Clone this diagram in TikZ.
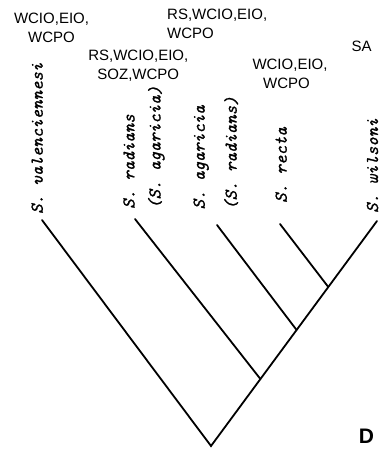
\documentclass[tikz,border=0pt]{standalone}
\usepackage{fontspec}
\newfontfamily\hdrfont{Liberation Sans}
\newfontfamily\taxfont{lmmono10-italic}[Extension=.otf,FakeBold=1.1]
\begin{document}
\begin{tikzpicture}[x=1pt,y=-1pt,
  branch/.style={line width=1.8pt,line cap=round,line join=miter},
  taxon/.style={rotate=90,anchor=base west,inner sep=0pt,
    font=\taxfont\fontsize{18}{20}\selectfont},
  area/.style={anchor=base,inner sep=0pt,
    font=\hdrfont\fontsize{15}{18}\selectfont},
  panel/.style={anchor=base,inner sep=0pt,
    font=\hdrfont\bfseries\fontsize{21}{24}\selectfont}]
\useasboundingbox (0,0) rectangle (387,450);

% tree
\coordinate (root) at (211,446);
\coordinate (tv) at (42,220);
\coordinate (tr) at (135,219);
\coordinate (ta) at (217,225);
\coordinate (tc) at (280,224);
\coordinate (tw) at (377,221);
\coordinate (n1) at (260.4,379);
\coordinate (n2) at (296.6,330);
\coordinate (n3) at (328.3,287);

\draw[branch] (tv) -- (root) -- (tw);
\draw[branch] (n1) -- (tr);
\draw[branch] (n2) -- (ta);
\draw[branch] (n3) -- (tc);

% taxa
\node[taxon] (lv) at (42.7,214) {S. valenciennesi};
\node[taxon] (lr1) at (134.5,209) {S. radians};
\node[taxon] (lr2) at (160.5,209) {(S. agaricia)};
\node[taxon] (la1) at (204.7,209.5) {S. agaricia};
\node[taxon] (la2) at (236.7,210) {(S. radians)};
\node[taxon] (lc) at (286.7,203) {S. recta};
\node[taxon] (lw) at (378,213) {S. wilsoni};

% areas
\node[area] (a1a) at (51.5,23.5) {WCIO,EIO,};
\node[area] (a1b) at (51.5,42.3) {WCPO};
\node[area] (a2a) at (138.3,60.7) {RS,WCIO,EIO,};
\node[area] (a2b) at (138.3,79.3) {SOZ,WCPO};
\node[area,anchor=base west] (a3a) at (167,19.3) {RS,WCIO,EIO,};
\node[area,anchor=base west] (a3b) at (167,38.3) {WCPO};
\node[area] (a4a) at (290,69.3) {WCIO,EIO,};
\node[area] (a4b) at (286.5,88.3) {WCPO};
\node[area] (a5) at (361.7,51.7) {SA};

\node[panel] (lblD) at (366.5,443) {D};
\end{tikzpicture}
\end{document}
